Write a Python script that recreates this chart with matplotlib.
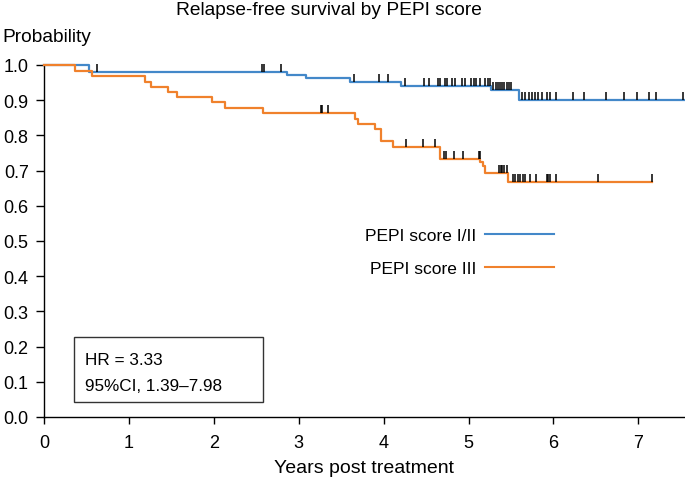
import numpy as np
import matplotlib
matplotlib.use("Agg")
import matplotlib.pyplot as plt
from matplotlib.lines import Line2D
from matplotlib.patches import Rectangle
from matplotlib.path import Path

plt.rcParams['font.family'] = ['Liberation Sans', 'DejaVu Sans']

# ---- data ----
blue_times = [0.0, 0.53, 2.86, 3.09, 3.60, 4.20, 5.27, 5.60]
blue_surv = [1.0, 0.979, 0.972, 0.962, 0.953, 0.940, 0.929, 0.901]
blue_end = 7.55
blue_censor = [0.63, 2.57, 2.59, 2.79, 3.65, 3.94, 4.05, 4.25, 4.47, 4.53, 4.64, 4.66,
               4.72, 4.75, 4.81, 4.84, 4.92, 4.96, 5.03, 5.06, 5.09, 5.14, 5.19, 5.23,
               5.25, 5.29, 5.32, 5.35, 5.37, 5.40, 5.42, 5.45, 5.48, 5.50, 5.63, 5.67,
               5.71, 5.75, 5.78, 5.82, 5.87, 5.92, 5.96, 6.03, 6.23, 6.36, 6.62, 6.83,
               6.99, 7.13, 7.21, 7.53]

orange_times = [0.0, 0.36, 0.56, 1.19, 1.26, 1.46, 1.57, 1.98, 2.13, 2.58, 3.66, 3.70,
                3.90, 3.97, 4.11, 4.66, 5.14, 5.17, 5.19, 5.46]
orange_surv = [1.0, 0.983, 0.970, 0.953, 0.937, 0.922, 0.908, 0.894, 0.878, 0.863, 0.848,
               0.833, 0.817, 0.784, 0.767, 0.734, 0.724, 0.712, 0.694, 0.667]
orange_end = 7.16
orange_censor = [3.26, 3.28, 3.35, 4.26, 4.46, 4.61, 4.71, 4.74, 4.83, 4.93, 5.12, 5.13,
                 5.36, 5.38, 5.40, 5.42, 5.45, 5.52, 5.55, 5.58, 5.61, 5.64, 5.67, 5.72,
                 5.80, 5.92, 5.94, 5.96, 6.03, 6.53, 7.16]

labels = ["PEPI score I/II", "PEPI score III"]
colors = ["#4388c9", "#f0812c"]
x_ticks = [0, 1, 2, 3, 4, 5, 6, 7]
y_ticks = [0.0, 0.1, 0.2, 0.3, 0.4, 0.5, 0.6, 0.7, 0.8, 0.9, 1.0]
hr_lines = ["HR = 3.33", "95%CI, 1.39\u20137.98"]

W, H = 685, 481
fig = plt.figure(figsize=(W / 100, H / 100), dpi=100)
L, R, T, B = 44, 685, 66, 418
ax = fig.add_axes([L / W, 1 - B / H, (R - L) / W, (B - T) / H])

censor_marker = Path([(0, 0), (0, 1)], [Path.MOVETO, Path.LINETO])


def km(ax, times, surv, end, censor, color):
    t = np.array(times + [end])
    s = np.array(surv + [surv[-1]])
    ax.step(t, s, where='post', color=color, lw=1.6, clip_on=False, zorder=3)
    c = np.array(censor)
    idx = np.searchsorted(np.array(times), c, side='right') - 1
    cs = np.array(surv)[idx]
    ax.plot(c, cs, linestyle='none', marker=censor_marker, markersize=11.5,
            markeredgewidth=1.1, color='black', clip_on=False, zorder=4)


km(ax, blue_times, blue_surv, blue_end, blue_censor, colors[0])
km(ax, orange_times, orange_surv, orange_end, orange_censor, colors[1])

ax.set_xlim(0, 7.55)
ax.set_ylim(0, 1.0)
ax.set_xticks(x_ticks)
ax.set_xticklabels([str(v) for v in x_ticks])
ax.set_yticks(y_ticks)
ax.set_yticklabels([f"{v:.1f}" for v in y_ticks])
for s in ['top', 'right']:
    ax.spines[s].set_visible(False)
for s in ['left', 'bottom']:
    ax.spines[s].set_linewidth(1.0)
ax.tick_params(axis='both', labelsize=13, width=1.0, direction='out')
ax.tick_params(axis='y', length=5.5, pad=5.5)
ax.tick_params(axis='x', length=5, pad=7)
ax.set_xlabel("Years post treatment", fontsize=14, labelpad=6)

handles = [Line2D([], [], color=c, lw=1.5) for c in colors]
leg = ax.legend(handles, labels, loc='upper right', bbox_to_anchor=(0.7956, 0.538),
                frameon=False, markerfirst=False, fontsize=12.5, handlelength=4.0,
                handletextpad=0.45, labelspacing=1.05, borderpad=0, borderaxespad=0)

x0, x1 = (74 - L) / (R - L), (263 - L) / (R - L)
y0, y1 = (B - 403) / (B - T), (B - 338) / (B - T)
ax.add_patch(Rectangle((x0, y0), x1 - x0, y1 - y0, transform=ax.transAxes,
                       fill=False, edgecolor='#333333', lw=1.0))
ax.text((85 - L) / (R - L), (B - 365) / (B - T), hr_lines[0], transform=ax.transAxes,
        fontsize=12.3, va='baseline', ha='left')
ax.text((85 - L) / (R - L), (B - 391) / (B - T), hr_lines[1], transform=ax.transAxes,
        fontsize=12.3, va='baseline', ha='left')

fig.text(329 / W, 1 - 15 / H, "Relapse-free survival by PEPI score", fontsize=13.8,
         ha='center', va='baseline')
fig.text(2 / W, 1 - 42 / H, "Probability", fontsize=13.8, ha='left', va='baseline')

fig.savefig("out.png", dpi=100)
